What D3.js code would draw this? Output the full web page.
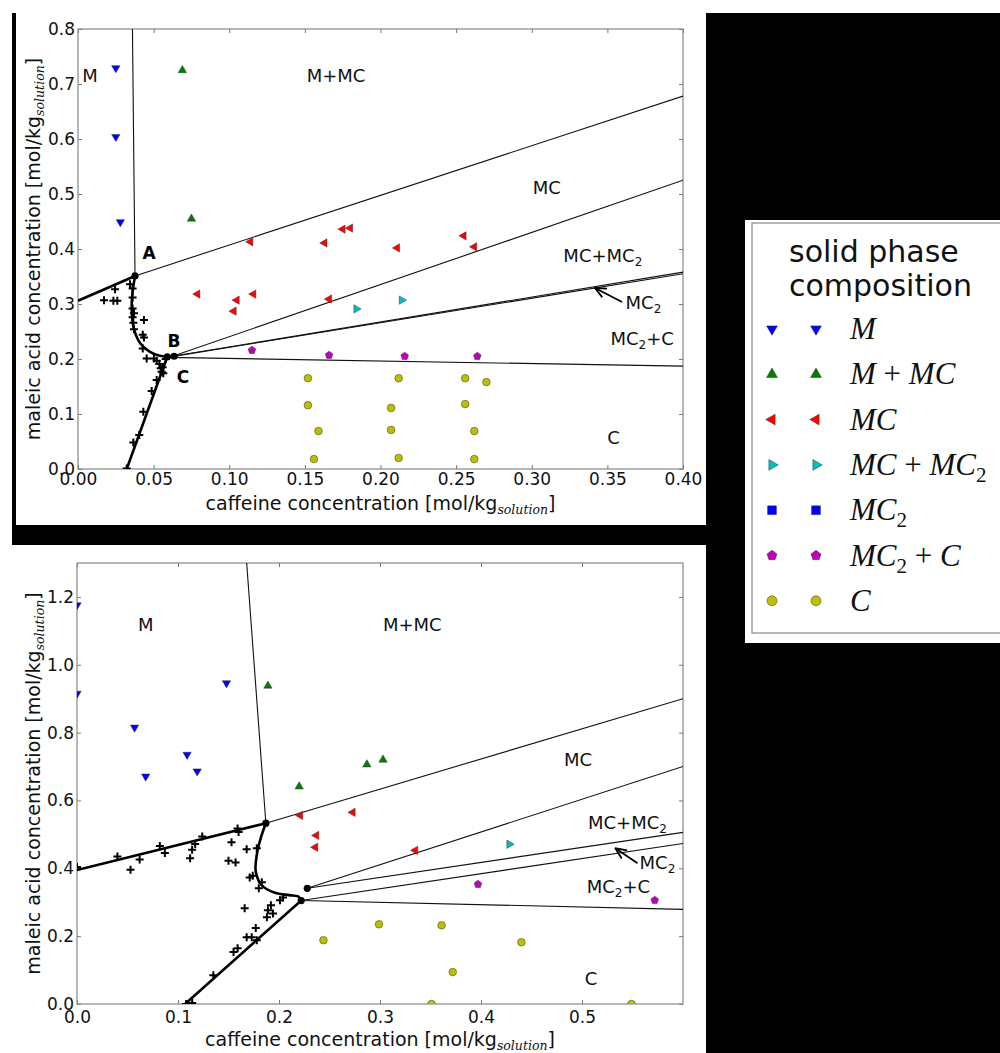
<!DOCTYPE html>
<html><head><meta charset="utf-8">
<script src="https://cdn.jsdelivr.net/npm/d3@7"></script>
<style>body{margin:0;background:#fff} svg{display:block}</style>
</head><body>
<svg id="chart" width="1000" height="1053"></svg>
<script>
// ================= DATA : top panel =================
const topXTicks = [0, 0.05, 0.10, 0.15, 0.20, 0.25, 0.30, 0.35, 0.40];
const topYTicks = [0, 0.1, 0.2, 0.3, 0.4, 0.5, 0.6, 0.7, 0.8];
const topM = [[0.025,0.729],[0.025,0.604],[0.028,0.449]];
const topMMC = [[0.069,0.725],[0.075,0.455]];
const topMC = [[0.114,0.413],[0.163,0.411],[0.175,0.436],[0.180,0.438],[0.211,0.402],[0.255,0.424],[0.262,0.404],
  [0.079,0.318],[0.105,0.307],[0.116,0.318],[0.103,0.287],[0.166,0.309]];
const topMCMC2 = [[0.184,0.291],[0.214,0.307]];
const topMC2C = [[0.115,0.216],[0.166,0.207],[0.216,0.205],[0.264,0.205]];
const topC = [[0.152,0.165],[0.152,0.116],[0.159,0.069],[0.156,0.018],[0.212,0.165],[0.207,0.111],[0.207,0.071],
  [0.212,0.020],[0.256,0.165],[0.270,0.158],[0.256,0.118],[0.262,0.069],[0.262,0.018]];
const topCross = [[0.0245,0.327],[0.0172,0.307],[0.0234,0.306],[0.026,0.306],[0.0344,0.336],[0.0361,0.328],[0.0361,0.312],
  [0.0361,0.292],[0.037,0.283],[0.0361,0.276],[0.0366,0.266],[0.0436,0.271],[0.037,0.254],[0.0428,0.244],[0.0436,0.239],
  [0.0428,0.219],[0.0454,0.201],[0.0502,0.201],[0.052,0.197],[0.0538,0.191],[0.0547,0.183],[0.0553,0.177],[0.0564,0.174],
  [0.052,0.162],[0.0487,0.142],[0.0432,0.104],[0.0405,0.062],[0.0366,0.048],[0.0322,0.001],[0.058,0.2],[0.056,0.185]];
const topThin = [[[0.036,0.8],[0.0377,0.351]],[[0.0377,0.351],[0.40,0.678]],[[0.0625,0.205],[0.40,0.525]],
  [[0.0625,0.205],[0.40,0.358]],[[0.059,0.203],[0.40,0.355]],[[0.059,0.203],[0.40,0.187]]];
const topThick = [[[0,0.306],[0.0377,0.351]],[[0.0322,0],[0.059,0.204]]];
const topCurve = [[0.0377,0.351],[0.0360,0.32],[0.0355,0.295],[0.0366,0.259],[0.041,0.229],[0.0476,0.213],[0.054,0.206],[0.0625,0.205]];
const topDots = [[0.0377,0.351],[0.059,0.204],[0.0635,0.205]];
const topRegions = [["M",0.008,0.715],["M+MC",0.1706,0.715],["MC",0.310,0.511],["MC+MC_2",0.347,0.389],
  ["MC_2+C",0.373,0.238],["C",0.354,0.058]];
const topPoints = [["A",0.047,0.393],["B",0.0635,0.233],["C",0.0694,0.167]];
const topArrow = {label:"MC_2", from:[0.3597,0.3036], to:[0.3418,0.329], text:[0.362,0.302]};

// ================= DATA : bottom panel =================
const botXTicks = [0, 0.1, 0.2, 0.3, 0.4, 0.5];
const botYTicks = [0, 0.2, 0.4, 0.6, 0.8, 1.0, 1.2];
const botM = [[0,1.176],[0,0.915],[0.057,0.815],[0.068,0.671],[0.109,0.735],[0.119,0.686],[0.148,0.946]];
const botMMC = [[0.189,0.938],[0.220,0.641],[0.287,0.706],[0.303,0.72]];
const botMC = [[0.221,0.556],[0.237,0.497],[0.236,0.462],[0.273,0.565],[0.335,0.453]];
const botMCMC2 = [[0.428,0.471]];
const botMC2C = [[0.397,0.353],[0.572,0.306]];
const botC = [[0.244,0.188],[0.299,0.235],[0.361,0.232],[0.440,0.182],[0.372,0.094],[0.351,0.0],[0.549,0.0]];
const botCross = [[0,0.404],[0.040,0.435],[0.053,0.396],[0.062,0.426],[0.082,0.466],[0.087,0.445],[0.112,0.43],[0.114,0.455],
  [0.117,0.472],[0.124,0.494],[0.153,0.477],[0.150,0.422],[0.157,0.417],[0.159,0.517],[0.160,0.507],[0.168,0.456],
  [0.178,0.459],[0.171,0.373],[0.174,0.378],[0.183,0.359],[0.180,0.341],[0.166,0.282],[0.189,0.276],[0.192,0.291],
  [0.188,0.256],[0.194,0.267],[0.201,0.306],[0.204,0.314],[0.177,0.224],[0.168,0.197],[0.173,0.197],[0.178,0.188],
  [0.155,0.153],[0.159,0.164],[0.135,0.085],[0.114,0.003],[0.108,0]];
const botThin = [[[0.168,1.3],[0.187,0.533]],[[0.187,0.533],[0.6,0.90]],[[0.228,0.341],[0.6,0.70]],
  [[0.228,0.341],[0.6,0.506]],[[0.222,0.305],[0.6,0.473]],[[0.222,0.305],[0.6,0.279]]];
const botThick = [[[0,0.395],[0.187,0.533]],[[0.107,0],[0.222,0.305]]];
const botCurve = [[0.187,0.533],[0.182,0.49],[0.178,0.44],[0.177,0.39],[0.183,0.35],[0.196,0.328],[0.21,0.321],[0.219,0.317],[0.222,0.305]];
const botDots = [[0.187,0.533],[0.228,0.341],[0.222,0.305]];
const botRegions = [["M",0.068,1.118],["M+MC",0.332,1.118],["MC",0.496,0.72],["MC+MC_2",0.545,0.535],
  ["MC_2+C",0.536,0.347],["C",0.509,0.076]];
const botArrow = {label:"MC_2", from:[0.555,0.415], to:[0.533,0.459], text:[0.557,0.416]};

// ================= legend =================
const legendTitle = ["solid phase","composition"];
const legendLabels = ["M","M + MC","MC","MC + MC_2","MC_2","MC_2 + C","C"];
const legendSymbols = ["down","up","left","right","square","pentagon","circle"];
const legendColors = ["#0000ff","#008000","#ff0000","#00bfbf","#0000ff","#bf00bf","#bfbf00"];

// ================= drawing =================
const svg = d3.select('#chart');
svg.append('rect').attr('width',1000).attr('height',1053).attr('fill','#fff');
svg.append('rect').attr('x',12).attr('y',13).attr('width',4).attr('height',532).attr('fill','#000');
svg.append('rect').attr('x',12).attr('y',525).attr('width',694).attr('height',20).attr('fill','#000');
svg.append('rect').attr('x',706).attr('y',13).attr('width',294).attr('height',1040).attr('fill','#000');

const symbolPentagon = {draw(ctx, size){
  const r = Math.sqrt(size / (2.5*Math.sin(2*Math.PI/5)));
  for(let i=0;i<5;i++){const a=-Math.PI/2+i*2*Math.PI/5; const x=r*Math.cos(a), y=r*Math.sin(a); i?ctx.lineTo(x,y):ctx.moveTo(x,y);}
  ctx.closePath();}};
const symbolCross = {draw(ctx,size){const h=Math.sqrt(size)/2; ctx.moveTo(-h,0);ctx.lineTo(h,0);ctx.moveTo(0,-h);ctx.lineTo(0,h);}};

function markerPath(kind, scale){
  const s = scale||1;
  if(kind==='down'||kind==='up'||kind==='left'||kind==='right') return d3.symbol(d3.symbolTriangle, 30*s*s)();
  if(kind==='square') return d3.symbol(d3.symbolSquare, 46*s*s)();
  if(kind==='pentagon') return d3.symbol(symbolPentagon, 38*s*s)();
  if(kind==='circle') return d3.symbol(d3.symbolCircle, 46*s*s)();
}
const rot = {down:180, up:0, left:-90, right:90, square:0, pentagon:0, circle:0};

function richText(sel, str, o){
  const tokens = [];
  for(let i=0;i<str.length;i++){
    if(str[i]==='_'){tokens.push({t:str[i+1],sub:true}); i++;}
    else tokens.push({t:str[i],sub:false});
  }
  let prevSub=false;
  tokens.forEach(tk=>{
    const ts = sel.append('tspan').text(tk.t);
    if(tk.sub){ ts.attr('font-size',o.subSize).attr('dy',o.subShift).attr('font-style','normal'); prevSub=true; }
    else { if(prevSub){ ts.attr('dy',-o.subShift); prevSub=false; }
      if(o.math){ ts.attr('font-style', /[A-Za-z]/.test(tk.t)?'italic':'normal'); } }
  });
}

function panel(cfg){
  const g = svg.append('g');
  const x = d3.scaleLinear().domain(cfg.xDom).range(cfg.xR);
  const y = d3.scaleLinear().domain(cfg.yDom).range(cfg.yR);
  const [L,R] = cfg.xR, [B,T] = cfg.yR;
  const cid = 'clip'+cfg.id;
  g.append('clipPath').attr('id',cid).append('rect').attr('x',L).attr('y',T).attr('width',R-L).attr('height',B-T);
  const font = "'DejaVu Sans', sans-serif";
  const gx = g.append('g').attr('transform',`translate(0,${B})`).call(d3.axisBottom(x).tickValues(cfg.xTicks).tickSizeInner(-4).tickSizeOuter(0).tickPadding(cfg.xPad).tickFormat(d3.format(cfg.xFmt)));
  const gxt = g.append('g').attr('transform',`translate(0,${T})`).call(d3.axisTop(x).tickValues(cfg.xTicks).tickSizeInner(-4).tickSizeOuter(0).tickFormat(()=>''));
  const gy = g.append('g').attr('transform',`translate(${L},0)`).call(d3.axisLeft(y).tickValues(cfg.yTicks).tickSizeInner(-4).tickSizeOuter(0).tickPadding(3).tickFormat(d3.format('.1f')));
  const gyr = g.append('g').attr('transform',`translate(${R},0)`).call(d3.axisRight(y).tickValues(cfg.yTicks).tickSizeInner(-4).tickSizeOuter(0).tickFormat(()=>''));
  [gx,gxt,gy,gyr].forEach(a=>{a.select('.domain').remove(); a.selectAll('.tick line').attr('stroke','#777');
    a.selectAll('.tick text').attr('font-family',font).attr('font-size',17).attr('fill','#111');});
  g.append('rect').attr('x',L).attr('y',T).attr('width',R-L).attr('height',B-T).attr('fill','none').attr('stroke','#888').attr('stroke-width',1.2);

  const pg = g.append('g').attr('clip-path',`url(#${cid})`);
  const line = d3.line().x(d=>x(d[0])).y(d=>y(d[1]));
  pg.selectAll('.thin').data(cfg.thin).join('path').attr('d',line).attr('fill','none').attr('stroke','#111').attr('stroke-width',1.1);
  pg.selectAll('.thick').data(cfg.thick).join('path').attr('d',line).attr('fill','none').attr('stroke','#000').attr('stroke-width',2.6);
  pg.append('path').attr('d',d3.line().x(d=>x(d[0])).y(d=>y(d[1])).curve(d3.curveCatmullRom.alpha(0.5))(cfg.curve))
    .attr('fill','none').attr('stroke','#000').attr('stroke-width',2.6);
  pg.selectAll('.cross').data(cfg.cross).join('path').attr('d',d3.symbol(symbolCross,64)())
    .attr('transform',d=>`translate(${x(d[0])},${y(d[1])})`).attr('stroke','#000').attr('stroke-width',2).attr('fill','none');
  pg.selectAll('.dot').data(cfg.dots).join('circle').attr('cx',d=>x(d[0])).attr('cy',d=>y(d[1])).attr('r',3.6).attr('fill','#000');
  cfg.series.forEach(s=>{
    pg.selectAll(null).data(s.data).join('path').attr('d',markerPath(s.kind))
      .attr('transform',d=>`translate(${x(d[0])},${y(d[1])}) rotate(${rot[s.kind]})`)
      .attr('fill',s.color).attr('stroke','#333').attr('stroke-width',0.5);
  });
  cfg.regions.forEach(r=>{
    const t = g.append('text').attr('x',x(r[1])).attr('y',y(r[2])).attr('dy','0.36em').attr('text-anchor','middle')
      .attr('font-family',font).attr('font-size',18).attr('fill','#111');
    richText(t, r[0], {subSize:12, subShift:4});
  });
  (cfg.points||[]).forEach(r=>{
    g.append('text').attr('x',x(r[1])).attr('y',y(r[2])).attr('dy','0.36em').attr('text-anchor','middle')
      .attr('font-family',font).attr('font-size',17).attr('font-weight','bold').attr('fill','#000').text(r[0]);
  });
  const a = cfg.arrow;
  g.append('line').attr('x1',x(a.from[0])).attr('y1',y(a.from[1])).attr('x2',x(a.to[0])).attr('y2',y(a.to[1]))
    .attr('stroke','#000').attr('stroke-width',1.8).attr('marker-end','url(#arrowhead)');
  const at = g.append('text').attr('x',x(a.text[0])).attr('y',y(a.text[1])).attr('dy','0.36em')
    .attr('font-family',font).attr('font-size',18).attr('fill','#111');
  richText(at, a.label, {subSize:12, subShift:4});
  const xt = g.append('text').attr('x',(L+R)/2).attr('y',cfg.xTitleY).attr('text-anchor','middle')
    .attr('font-family',font).attr('font-size',19).attr('fill','#111');
  xt.append('tspan').text('caffeine concentration [mol/kg');
  xt.append('tspan').text('solution').attr('font-family',"'DejaVu Serif', serif").attr('font-style','italic').attr('font-size',12.5).attr('dy',4);
  xt.append('tspan').text(']').attr('dy',-4);
  const yt = g.append('text').attr('transform',`translate(${cfg.yTitleX},${(T+B)/2}) rotate(-90)`).attr('text-anchor','middle')
    .attr('font-family',font).attr('font-size',19).attr('fill','#111');
  yt.append('tspan').text('maleic acid concentration [mol/kg');
  yt.append('tspan').text('solution').attr('font-family',"'DejaVu Serif', serif").attr('font-style','italic').attr('font-size',12.5).attr('dy',4);
  yt.append('tspan').text(']').attr('dy',-4);
}

const defs = svg.append('defs');
defs.append('marker').attr('id','arrowhead').attr('viewBox','0 -6 12 12').attr('refX',11).attr('refY',0)
  .attr('markerWidth',12).attr('markerHeight',12).attr('markerUnits','userSpaceOnUse').attr('orient','auto')
  .append('path').attr('d','M0,-5 L11,0 L0,5').attr('fill','none').attr('stroke','#000').attr('stroke-width',1.8);

panel({id:'top', xDom:[0,0.4], yDom:[0,0.8], xR:[78,683], yR:[469,29], xTicks:topXTicks, yTicks:topYTicks, xFmt:'.2f', xPad:4,
  thin:topThin, thick:topThick, curve:topCurve, cross:topCross, dots:topDots,
  series:[{data:topM,kind:'down',color:legendColors[0]},{data:topMMC,kind:'up',color:legendColors[1]},{data:topMC,kind:'left',color:legendColors[2]},
    {data:topMCMC2,kind:'right',color:legendColors[3]},{data:topMC2C,kind:'pentagon',color:legendColors[5]},{data:topC,kind:'circle',color:legendColors[6]}],
  regions:topRegions, points:topPoints, arrow:topArrow, xTitleY:510, yTitleX:40});

panel({id:'bot', xDom:[0,0.6], yDom:[0,1.3], xR:[77,683], yR:[1004,563], xTicks:botXTicks, yTicks:botYTicks, xFmt:'.1f', xPad:7,
  thin:botThin, thick:botThick, curve:botCurve, cross:botCross, dots:botDots,
  series:[{data:botM,kind:'down',color:legendColors[0]},{data:botMMC,kind:'up',color:legendColors[1]},{data:botMC,kind:'left',color:legendColors[2]},
    {data:botMCMC2,kind:'right',color:legendColors[3]},{data:botMC2C,kind:'pentagon',color:legendColors[5]},{data:botC,kind:'circle',color:legendColors[6]}],
  regions:botRegions, arrow:botArrow, xTitleY:1046, yTitleX:40});

const lg = svg.append('g');
lg.append('rect').attr('x',745).attr('y',220).attr('width',255).attr('height',423).attr('fill','#fff');
lg.append('rect').attr('x',752).attr('y',223).attr('width',300).attr('height',410).attr('fill','none').attr('stroke','#888').attr('stroke-width',1.2);
legendTitle.forEach((t,i)=>lg.append('text').attr('x',789).attr('y',262+i*34).attr('font-family',"'DejaVu Sans', sans-serif")
  .attr('font-size',30).attr('fill','#111').text(t));
legendLabels.forEach((lab,i)=>{
  const cy = 329 + i*45.3;
  [772,816].forEach(cx=>lg.append('path').attr('d',markerPath(legendSymbols[i],1.3))
    .attr('transform',`translate(${cx},${cy}) rotate(${rot[legendSymbols[i]]})`)
    .attr('fill',legendColors[i]).attr('stroke','#333').attr('stroke-width',0.5));
  const t = lg.append('text').attr('x',850).attr('y',cy+10).attr('font-family',"'Liberation Serif', serif")
    .attr('font-size',31).attr('fill','#111');
  richText(t, lab, {subSize:21, subShift:7, math:true});
});
</script>
</body></html>
